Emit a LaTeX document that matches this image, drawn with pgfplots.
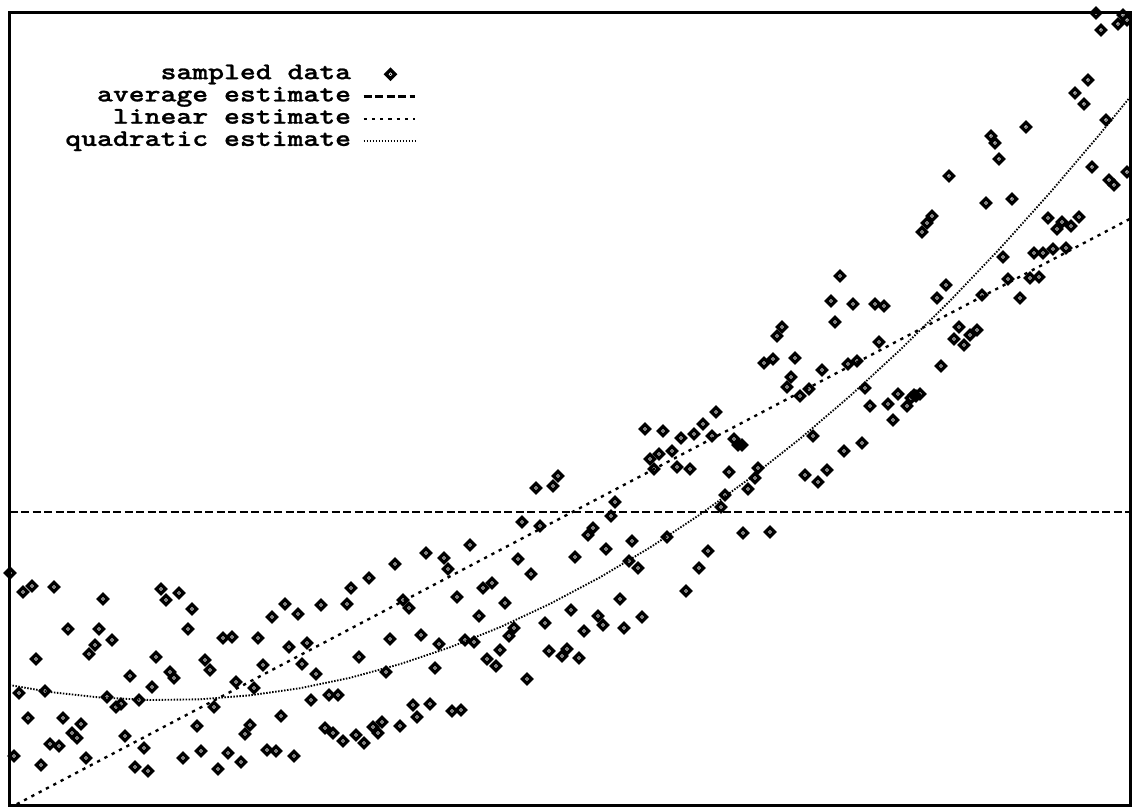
\documentclass[border=0pt]{standalone}
\usepackage{fontspec}
\newfontfamily\legfont{lmmonolt10-bold.otf}[FakeStretch=1.26, FakeBold=1]
\usepackage{pgfplots}
\pgfplotsset{compat=1.18}
\pgfdeclareplotmark{gpdiamond}{%
  \pgfpathmoveto{\pgfqpoint{0pt}{\pgfplotmarksize}}%
  \pgfpathlineto{\pgfqpoint{\pgfplotmarksize}{0pt}}%
  \pgfpathlineto{\pgfqpoint{0pt}{-\pgfplotmarksize}}%
  \pgfpathlineto{\pgfqpoint{-\pgfplotmarksize}{0pt}}%
  \pgfpathclose
  \pgfusepathqstroke
  \pgfpathcircle{\pgfpointorigin}{0.32pt}%
  \pgfusepathqfill
}
\pgfplotsset{
  legline/.style={legend image code/.code={\draw[##1] (0cm,0cm) -- (0.72cm,0cm);}},
  legmark/.style={legend image code/.code={\draw[##1] plot coordinates {(0.38cm,0cm)};}},
}
\pgfplotstableread{
x y
10 573
23 592
32 586
54 587
103 599
161 589
166 600
179 593
192 609
188 629
68 629
99 629
112 640
95 645
89 654
36 659
156 657
130 676
170 672
174 678
152 687
19 693
45 691
107 697
116 707
121 704
139 700
28 718
63 718
81 724
72 733
77 738
50 744
59 746
14 756
41 765
86 758
125 736
144 748
135 767
148 771
205 660
210 670
223 638
232 637
214 707
197 726
183 758
201 751
218 769
228 753
241 762
236 682
254 688
250 725
245 734
258 638
263 665
272 617
285 604
298 614
289 647
307 643
302 664
316 674
281 716
267 750
276 751
294 756
311 700
329 695
338 695
321 605
347 604
351 588
369 578
359 657
325 728
333 733
343 741
356 735
364 743
373 727
378 733
382 722
400 726
413 705
417 717
430 704
452 711
461 710
716 412
645 429
663 431
681 438
694 434
703 424
712 436
734 439
738 445
650 459
659 454
672 451
654 469
677 467
690 469
729 472
758 468
748 489
755 478
725 495
721 507
743 533
536 488
553 486
558 476
615 502
611 516
522 522
540 526
593 528
588 535
667 537
632 541
606 549
575 557
708 551
699 568
686 591
629 561
638 568
470 545
426 553
444 558
448 569
395 564
518 559
531 574
457 597
483 588
492 583
505 603
403 600
409 608
479 616
620 599
571 610
598 616
603 625
642 617
624 628
584 631
545 623
514 628
509 636
390 639
421 635
439 644
465 640
474 642
500 650
487 659
496 666
549 651
567 649
562 656
579 658
435 668
386 672
527 679
840 276
831 301
853 304
875 304
884 306
835 322
782 327
777 336
946 285
937 298
982 295
1008 279
1030 278
1039 277
1020 298
764 363
773 359
795 358
879 342
822 370
848 364
857 361
791 377
787 387
800 396
809 389
959 327
954 339
964 345
977 330
970 335
941 366
865 388
870 406
898 394
888 404
907 406
914 395
920 394
911 398
916 396
893 420
742 445
813 436
844 451
862 443
805 475
818 482
827 470
770 532
1003 257
1034 253
1043 253
1053 249
1066 248
1096 13
1101 30
1118 24
1123 15
1127 20
1088 80
1075 93
1084 104
1106 120
1026 127
991 136
995 143
999 159
949 176
1092 167
1109 180
1114 185
1127 172
986 203
1012 199
932 216
927 223
922 232
1048 218
1062 222
1057 229
1071 226
1079 217
}\sampled
\begin{document}
\begin{tikzpicture}
\begin{axis}[
  scale only axis, width=448.4pt, height=316.9pt,
  xmin=9.5, xmax=1130.5, ymin=12.7, ymax=805, y dir=reverse,
  ticks=none,
  axis line style={line width=1.2pt},
  legend cell align=right, legend plot pos=right,
  legend style={at={(0.363,0.937)}, anchor=north east, draw=none, fill=none,
    inner sep=0pt, column sep=4.5pt, row sep=0pt,
    nodes={inner sep=0pt, text height=6.4pt, text depth=2.5pt,
      font=\legfont\fontsize{9.6}{9.6}\selectfont}},
]
\addplot[only marks, mark=gpdiamond, mark size=1.8pt, line width=1.35pt, legmark]
  table {\sampled};
\addlegendentry{sampled data}
\addplot[line width=0.9pt, dash pattern=on 3.3pt off 1.3pt, legline]
  coordinates {(9.5,512) (1130.5,512)};
\addlegendentry{average estimate}
\addplot[line width=0.95pt, dash pattern=on 1.3pt off 2pt, legline]
  coordinates {(9.5,808) (1130.5,218.5)};
\addlegendentry{linear estimate}
\addplot[line width=0.75pt, dash pattern=on 0.6pt off 0.6pt, legline]
  coordinates {(9.5,685) (50,692) (100,697.5) (150,700) (200,699.3) (250,695.3)
  (300,688.2) (350,677.8) (400,664.1) (450,647.3) (500,627.2) (550,603.8)
  (600,577.3) (650,547.5) (700,514.5) (750,478.2) (800,438.7) (850,396)
  (900,350) (950,300.8) (1000,248.4) (1050,192.7) (1100,133.9) (1130.5,96.5)};
\addlegendentry{quadratic estimate}
\end{axis}
\pgfresetboundingbox
\path (current axis.south west) ++(-3.8pt,-0.4pt) coordinate (bbA);
\path (current axis.north east) ++(0.6pt,5.1pt) coordinate (bbB);
\useasboundingbox (bbA) rectangle (bbB);
\end{tikzpicture}
\end{document}
